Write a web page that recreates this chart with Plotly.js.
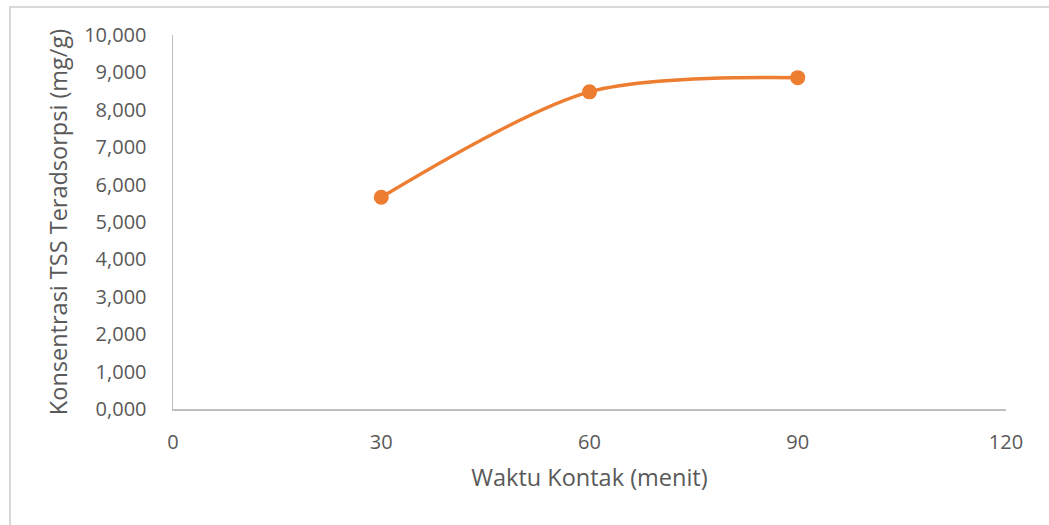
<!DOCTYPE html>
<html>
<head>
<meta charset="utf-8">
<script src="https://cdn.plot.ly/plotly-3.0.1.min.js"></script>
<style>
  html, body { margin: 0; padding: 0; background: #ffffff; }
  #wrap { position: relative; width: 1049px; height: 525px; overflow: hidden; }
  #chart { width: 1049px; height: 525px; }
  #frame { position: absolute; left: 9px; top: 6px; width: 1060px; height: 540px;
           border: 2px solid #d9d9d9; box-sizing: border-box; pointer-events: none; }
</style>
</head>
<body>
<div id="wrap">
  <div id="chart"></div>
  <div id="frame"></div>
</div>
<script>
const waktu = [30, 60, 90];
const konsentrasi = [5.66, 8.48, 8.86];
const yTickVals = [0, 1, 2, 3, 4, 5, 6, 7, 8, 9, 10];
const yTickText = ["0,000", "1,000", "2,000", "3,000", "4,000", "5,000", "6,000", "7,000", "8,000", "9,000", "10,000"];
const xTickVals = [0, 30, 60, 90, 120];

const fontFam = "'Open Sans', 'Noto Sans', sans-serif";

Plotly.newPlot('chart', [{
  x: waktu,
  y: konsentrasi,
  type: 'scatter',
  mode: 'lines+markers',
  line: { color: '#ed7d31', width: 3.5, shape: 'spline', smoothing: 0.85 },
  marker: { color: '#ed7d31', size: 15 },
  hoverinfo: 'x+y'
}], {
  width: 1049,
  height: 525,
  margin: { l: 173, r: 43, t: 35, b: 116, pad: 0 },
  paper_bgcolor: '#ffffff',
  plot_bgcolor: '#ffffff',
  showlegend: false,
  font: { family: fontFam, color: '#595959', size: 20 },
  xaxis: {
    range: [0, 120],
    tickvals: xTickVals,
    ticktext: xTickVals.map(String),
    showgrid: false,
    zeroline: false,
    showline: true,
    linecolor: '#bfbfbf',
    linewidth: 1.5,
    ticks: '',
    ticklabelstandoff: 14,
    tickfont: { family: fontFam, size: 20, color: '#595959' },
    title: { text: 'Waktu Kontak (menit)', standoff: 16, font: { family: fontFam, size: 23.5, color: '#595959' } }
  },
  yaxis: {
    range: [0, 10],
    tickvals: yTickVals,
    ticktext: yTickText,
    showgrid: false,
    zeroline: false,
    showline: true,
    linecolor: '#bfbfbf',
    linewidth: 1.5,
    ticks: '',
    ticklabelstandoff: 21,
    tickfont: { family: fontFam, size: 20, color: '#595959' },
    title: { text: 'Konsentrasi TSS Teradsorpsi (mg/g)', standoff: 10, font: { family: fontFam, size: 23.5, color: '#595959' } }
  }
}, { displayModeBar: false, staticPlot: true });
</script>
</body>
</html>
